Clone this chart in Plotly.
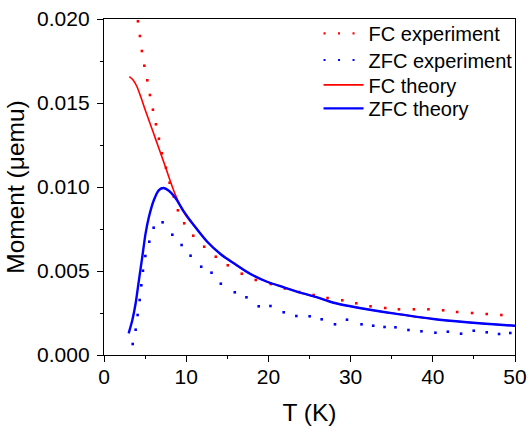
import plotly.graph_objects as go

# ---- data ----
fc_exp_T = [4.13, 4.37, 4.61, 4.91, 5.27, 5.59, 5.95, 6.32, 6.68, 7.04, 7.53, 7.98, 8.49, 8.99, 9.76,
            10.86, 12.19, 13.60, 15.06, 16.76, 18.46, 20.28, 22.01, 23.73, 25.50, 27.20, 28.99, 30.69,
            32.43, 34.21, 35.88, 37.70, 39.47, 41.26, 42.96, 44.78, 46.56, 48.34]
fc_exp_M = [0.019863, 0.018988, 0.018095, 0.017220, 0.016351, 0.015476, 0.014601, 0.013732, 0.012875,
            0.012006, 0.011149, 0.010256, 0.009434, 0.008613, 0.007839, 0.007101, 0.006446, 0.005851,
            0.005339, 0.004839, 0.004464, 0.004226, 0.003958, 0.003750, 0.003571, 0.003393, 0.003256,
            0.003077, 0.002899, 0.002798, 0.002720, 0.002720, 0.002720, 0.002661, 0.002559, 0.002500,
            0.002440, 0.002380]

zfc_exp_T = [3.49, 3.85, 4.09, 4.34, 4.54, 4.74, 5.03, 5.51, 6.04, 7.13, 8.31, 9.44, 10.53, 11.83, 13.08,
             14.21, 15.91, 17.33, 18.82, 20.25, 21.86, 23.40, 25.02, 26.48, 28.10, 29.56, 31.33, 32.75,
             34.13, 35.46, 37.04, 38.62, 40.32, 41.83, 43.44, 44.98, 46.56, 48.06, 49.43]
zfc_exp_M = [0.000655, 0.001506, 0.002381, 0.003274, 0.004149, 0.005018, 0.005893, 0.006744, 0.007577,
             0.007899, 0.007161, 0.006547, 0.005911, 0.005256, 0.004899, 0.004244, 0.003732, 0.003434,
             0.002899, 0.002917, 0.002542, 0.002321, 0.002304, 0.002125, 0.001827, 0.002101, 0.001827,
             0.001744, 0.001667, 0.001649, 0.001488, 0.001411, 0.001327, 0.001387, 0.001268, 0.001446,
             0.001351, 0.001250, 0.001310]

fc_th_T = [3.08, 3.49, 3.97, 4.46, 5.06, 5.67, 6.28, 6.89, 7.50, 8.10, 8.71, 9.31, 9.92, 10.53, 10.93,
           12.56, 14.17, 15.79, 17.82, 19.84, 21.86, 23.89, 26.32, 27.93, 31.99, 36.03, 40.08, 44.13,
           48.18, 50.0]
fc_th_M = [0.016565, 0.016398, 0.016011, 0.015386, 0.014523, 0.013690, 0.012850, 0.012010, 0.011160,
           0.010300, 0.009500, 0.008850, 0.008330, 0.007930, 0.007730, 0.00674, 0.00601, 0.00546, 0.00482,
           0.00436, 0.00403, 0.00371, 0.00337, 0.00311, 0.00272, 0.00242, 0.00214, 0.00195, 0.00180,
           0.00174]

zfc_th_T = [3.0, 3.45, 3.85, 4.25, 4.66, 5.06, 5.47, 6.07, 6.68, 7.25, 7.89, 8.71, 9.72, 10.93, 12.56,
            14.17, 15.79, 17.82, 19.84, 21.86, 23.89, 26.32, 27.93, 31.99, 36.03, 40.08, 44.13, 48.18, 50.0]
zfc_th_M = [0.00129, 0.00208, 0.00308, 0.00446, 0.00585, 0.00724, 0.00823, 0.00923, 0.00982, 0.00994,
            0.00978, 0.00933, 0.00853, 0.00772, 0.00674, 0.00601, 0.00546, 0.00482, 0.00436, 0.00403,
            0.00371, 0.00337, 0.00311, 0.00272, 0.00242, 0.00214, 0.00195, 0.00180, 0.00174]

x_ticks = [0, 10, 20, 30, 40, 50]
y_ticks = [0.000, 0.005, 0.010, 0.015, 0.020]
y_tick_labels = ["0.000", "0.005", "0.010", "0.015", "0.020"]

legend_names = ["FC experiment", "ZFC experiment", "FC theory", "ZFC theory"]

RED = "#ff0000"
BLUE = "#0000ff"
FONT = "Liberation Sans, Arial, sans-serif"

fig = go.Figure()

# experiment dots (drawn as markers), legend shown via dotted-line entries
fig.add_trace(go.Scatter(x=fc_exp_T, y=fc_exp_M, mode="markers", showlegend=False,
                         marker=dict(symbol="square", size=2.6, color=RED, line=dict(width=0))))
fig.add_trace(go.Scatter(x=zfc_exp_T, y=zfc_exp_M, mode="markers", showlegend=False,
                         marker=dict(symbol="square", size=2.6, color=BLUE, line=dict(width=0))))
fig.add_trace(go.Scatter(x=[None], y=[None], mode="lines", name=legend_names[0], legend="legend",
                         line=dict(color=RED, width=2.2, dash="2px,12.5px")))
fig.add_trace(go.Scatter(x=[None], y=[None], mode="lines", name=legend_names[1], legend="legend2",
                         line=dict(color=BLUE, width=2.2, dash="2px,12.5px")))
fig.add_trace(go.Scatter(x=fc_th_T, y=fc_th_M, mode="lines", name=legend_names[2], legend="legend3",
                         line=dict(color=RED, width=1.6, shape="spline", smoothing=0.8)))
fig.add_trace(go.Scatter(x=zfc_th_T, y=zfc_th_M, mode="lines", name=legend_names[3], legend="legend4",
                         line=dict(color=BLUE, width=2.4, shape="spline", smoothing=0.8)))

axis_common = dict(showline=True, linecolor="black", linewidth=1.3, mirror=True, automargin=False,
                   showgrid=False, zeroline=False, ticks="outside", ticklen=6, tickwidth=1.3,
                   tickcolor="black", tickfont=dict(family=FONT, size=21, color="black"))

fig.update_xaxes(range=[0, 50], tickvals=x_ticks, ticktext=[str(v) for v in x_ticks],
                 ticklabelstandoff=-3,
                 title=dict(text="T (K)", font=dict(family=FONT, size=24.5, color="black"), standoff=16),
                 minor=dict(ticks="outside", ticklen=3, tickwidth=1.3, tickcolor="black", dtick=5),
                 **axis_common)
fig.update_yaxes(range=[0, 0.020], tickvals=y_ticks, ticktext=y_tick_labels,
                 ticklabelstandoff=3,
                 title=dict(text="Moment (μemu)", font=dict(family=FONT, size=24.5, color="black"), standoff=5),
                 minor=dict(ticks="outside", ticklen=3, tickwidth=1.3, tickcolor="black", dtick=0.0025),
                 **axis_common)

leg_common = dict(x=0.522, xanchor="left", yanchor="middle", bgcolor="rgba(0,0,0,0)",
                  font=dict(family=FONT, size=20, color="black"), itemwidth=40)
fig.update_layout(
    width=528, height=427,
    margin=dict(l=103.5, r=13, t=19, b=72, autoexpand=False),
    paper_bgcolor="white", plot_bgcolor="white",
    font=dict(family=FONT, color="black"),
    legend=dict(y=0.957, **leg_common),
    legend2=dict(y=0.878, **leg_common),
    legend3=dict(y=0.804, **leg_common),
    legend4=dict(y=0.734, **leg_common),
)

fig.write_html("out.html", config={"displayModeBar": False},
               post_script="document.body.style.margin='0';")
